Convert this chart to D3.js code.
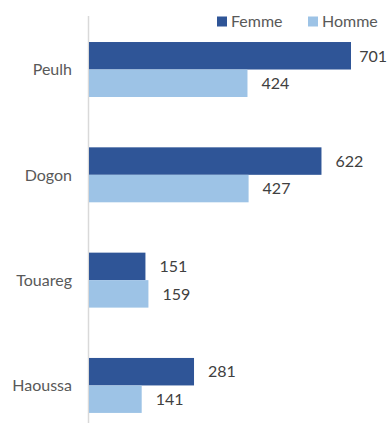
<!DOCTYPE html>
<html>
<head>
<meta charset="utf-8">
<script src="https://cdn.jsdelivr.net/npm/d3@7"></script>
<style>
  html, body { margin: 0; padding: 0; background: #fff; }
  svg { display: block; }
</style>
</head>
<body>
<div id="chart"></div>
<script>
// Population counts by ethnic group and sex
const categories = ["Peulh", "Dogon", "Touareg", "Haoussa"];
const seriesNames = ["Femme", "Homme"];
const femme = [701, 622, 151, 281];
const homme = [424, 427, 159, 141];

const colors = { Femme: "#2F5597", Homme: "#9DC3E6" };
const width = 387, height = 423;
const font = "Lato, 'Open Sans', sans-serif";
const fontSize = 16;

const svg = d3.select("#chart").append("svg")
  .attr("width", width).attr("height", height);

const x = d3.scaleLinear().domain([0, 701]).range([89, 351]);
const y = d3.scaleBand().domain(categories).range([16.85, 438.1])
  .paddingInner(0.478).paddingOuter(0.239);
const ySub = d3.scaleBand().domain(seriesNames).range([0, y.bandwidth()]);

const rows = categories.map((c, i) => ({ cat: c, Femme: femme[i], Homme: homme[i] }));

// vertical category axis line
svg.append("line")
  .attr("x1", 88.5).attr("x2", 88.5).attr("y1", 16).attr("y2", height)
  .attr("stroke", "#d9d9d9").attr("stroke-width", 1.5);

const groups = svg.selectAll("g.cat").data(rows).join("g")
  .attr("class", "cat")
  .attr("transform", d => `translate(0,${y(d.cat)})`);

groups.selectAll("rect").data(d => seriesNames.map(s => ({ s, v: d[s] }))).join("rect")
  .attr("x", x(0))
  .attr("y", d => ySub(d.s))
  .attr("width", d => x(d.v) - x(0))
  .attr("height", ySub.bandwidth())
  .attr("fill", d => colors[d.s]);

// value labels, kept inside the right edge of the chart
groups.selectAll("text.val").data(d => seriesNames.map(s => ({ s, v: d[s] }))).join("text")
  .attr("class", "val")
  .attr("x", d => x(d.v) + 14)
  .attr("y", d => ySub(d.s) + ySub.bandwidth() / 2)
  .attr("dy", "0.36em")
  .attr("font-family", font).attr("font-size", fontSize)
  .attr("fill", "#404040")
  .text(d => d.v)
  .each(function (d) {
    const w = this.getComputedTextLength();
    const x0 = x(d.v) + 14;
    if (x0 + w > width) d3.select(this).attr("x", width - w);
  });

// category labels
svg.selectAll("text.cat").data(categories).join("text")
  .attr("class", "cat")
  .attr("x", 72)
  .attr("y", d => y(d) + y.bandwidth() / 2)
  .attr("dy", "0.36em")
  .attr("text-anchor", "end")
  .attr("font-family", font).attr("font-size", fontSize)
  .attr("fill", "#595959")
  .text(d => d);

// legend
const legendX = [217, 308];
const legend = svg.selectAll("g.leg").data(seriesNames).join("g")
  .attr("class", "leg")
  .attr("transform", (d, i) => `translate(${legendX[i]},16.5)`);
legend.append("rect").attr("width", 10).attr("height", 10)
  .attr("fill", d => colors[d]);
legend.append("text").attr("x", 14).attr("y", 5).attr("dy", "0.36em")
  .attr("font-family", font).attr("font-size", fontSize)
  .attr("fill", "#595959")
  .text(d => d);
</script>
</body>
</html>
